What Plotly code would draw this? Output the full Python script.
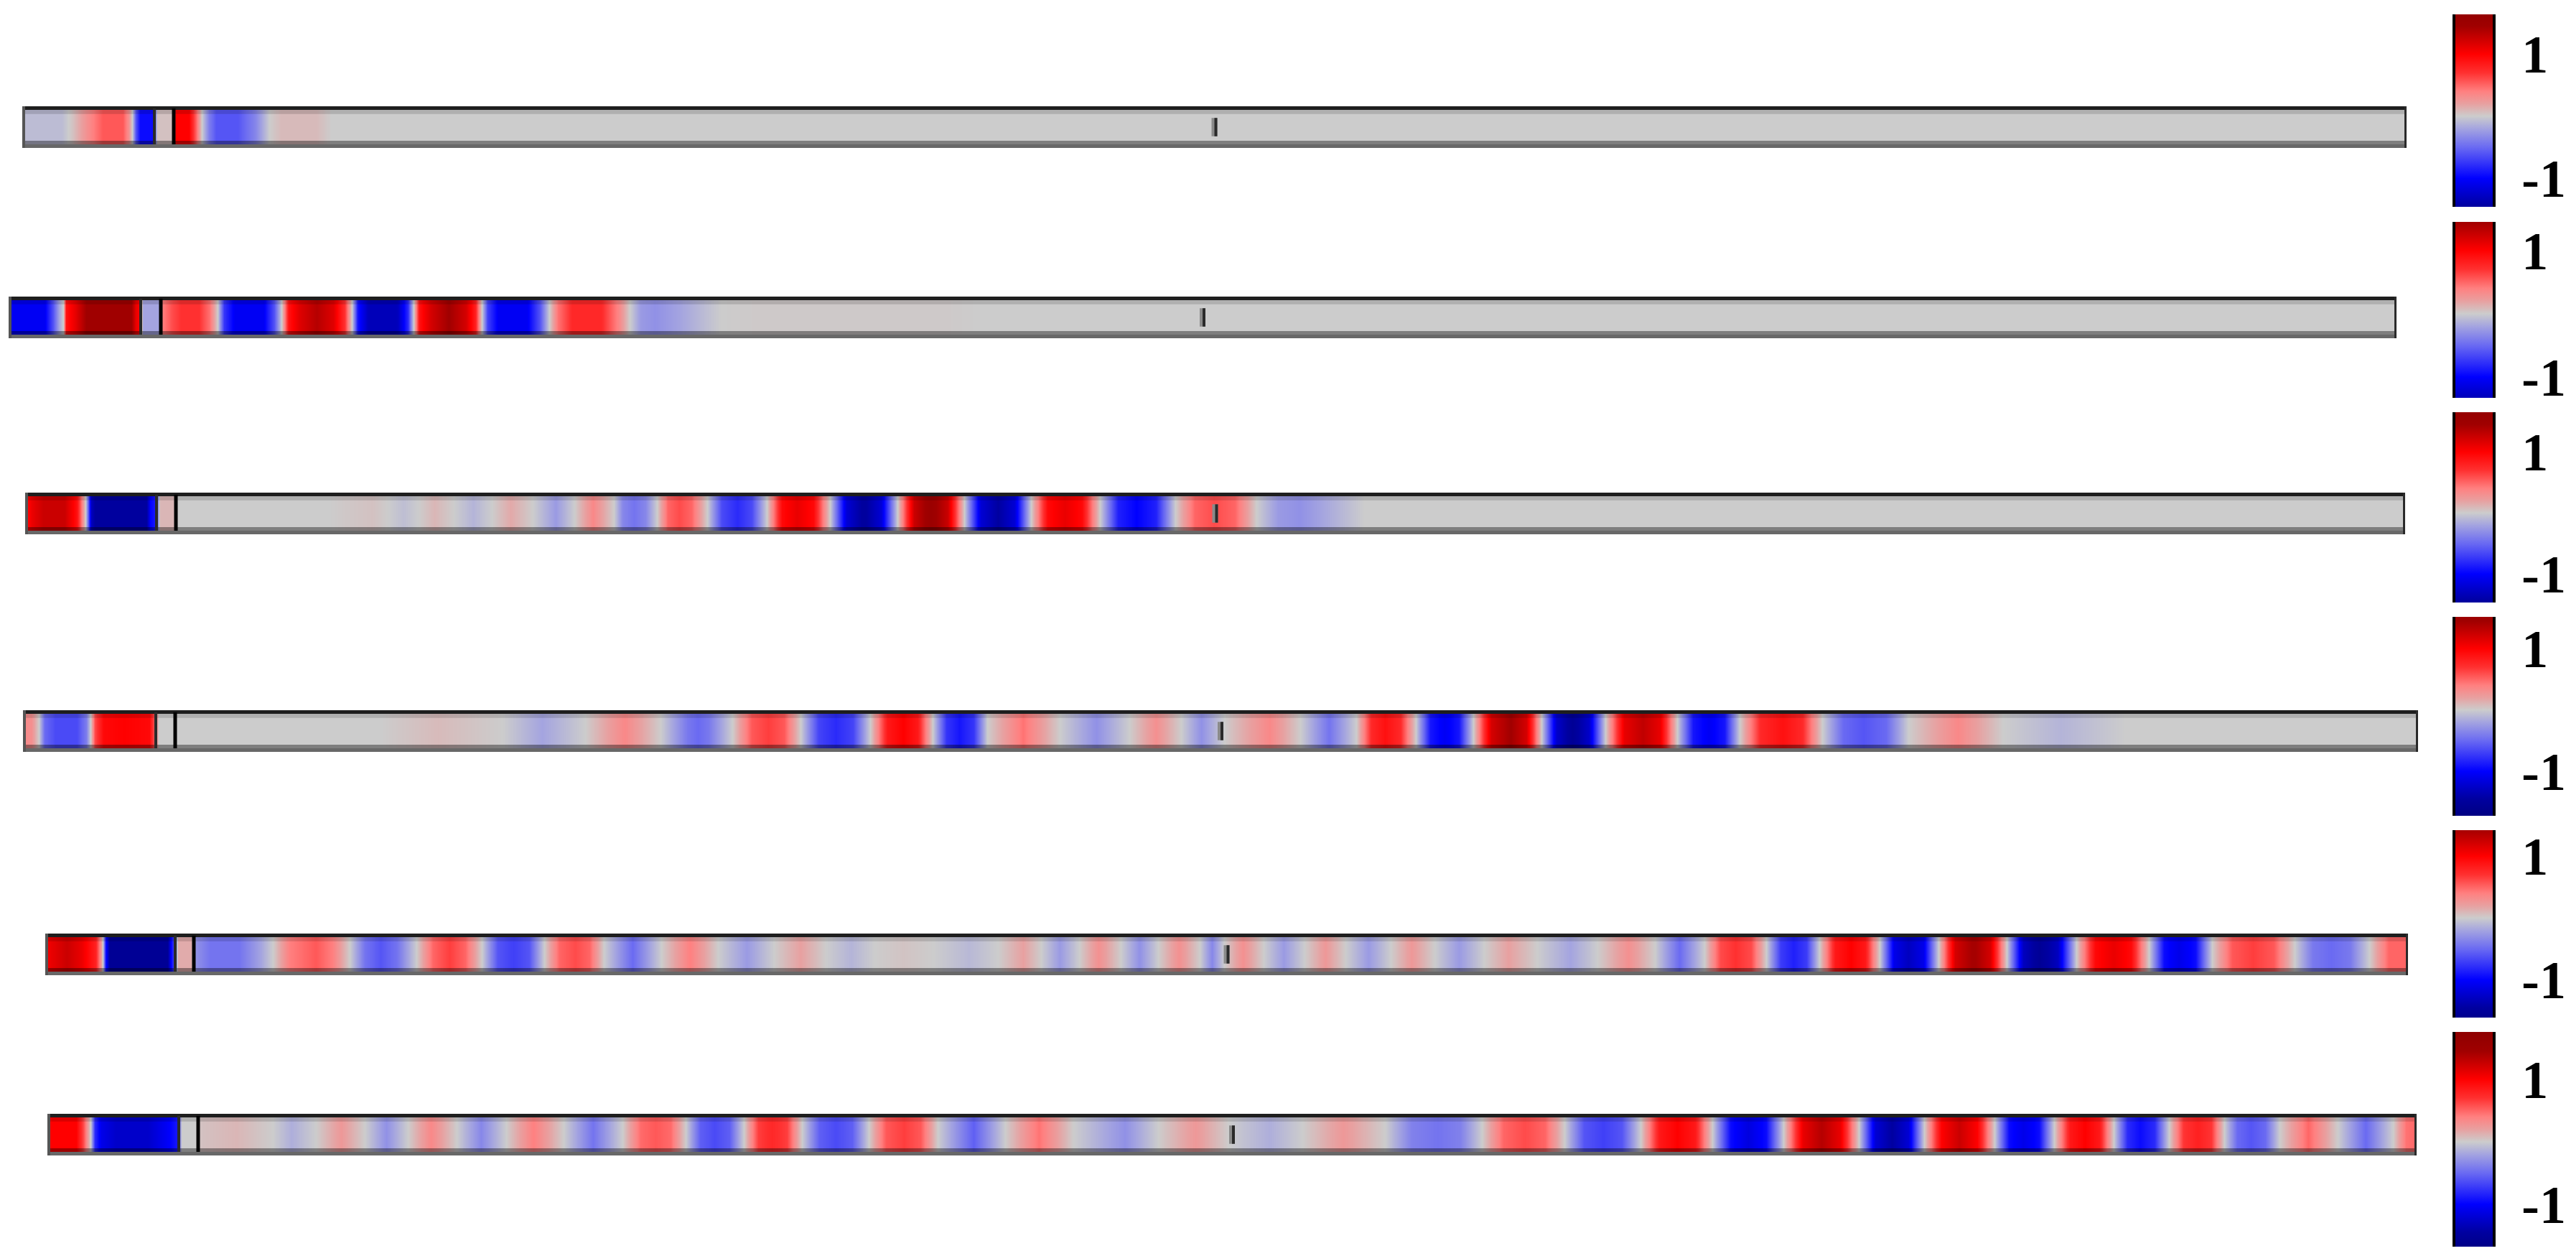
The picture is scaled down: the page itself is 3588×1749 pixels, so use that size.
import plotly.graph_objects as go

PAGE_MARGIN = 8                     # default body margin of the html page
W, H = 3588 - PAGE_MARGIN, 1749 - PAGE_MARGIN

# ---------------- data: normalized field along each waveguide (position, value) ----------------
ROW1 = [(0, -0.08), (55, -0.08), (70, 0.05), (90, 0.3), (112, 0.55), (140, 0.55), (148, 0.3), (153, 0.0),
        (158, -0.6), (164, -0.95), (182, -0.95), (188, 0.05), (208, 0.05), (214, 1.0), (232, 1.0), (242, 0.5),
        (250, 0.0), (260, -0.4), (270, -0.6), (300, -0.6), (325, -0.35), (344, 0.0), (360, 0.08), (410, 0.08),
        (430, 0.0), (3321, 0.0)]

ROW2 = [(0, -1.4), (5, -1.05), (50, -1.05), (62, -0.6), (70, -0.2), (76, 0.0), (80, 0.9), (92, 1.1), (110, 1.5),
        (170, 1.5), (177, 1.1), (182, 1.0), (187, -0.2), (209, -0.2), (214, 0.4), (228, 0.6), (240, 0.7),
        (265, 0.7), (280, 0.45), (291, 0.0), (300, -0.75), (315, -1.05), (355, -1.05), (370, -0.6), (380, 0.0),
        (390, 0.9), (405, 1.15), (429, 1.35), (452, 1.15), (468, 0.7), (478, 0.0), (486, -0.9), (500, -1.3),
        (521, -1.5), (542, -1.3), (556, -0.8), (564, 0.0), (572, 0.9), (588, 1.2), (613, 1.45), (637, 1.2),
        (650, 0.8), (659, 0.0), (667, -0.7), (682, -1.05), (722, -1.05), (740, -0.6), (753, 0.0), (765, 0.45),
        (785, 0.75), (825, 0.75), (850, 0.35), (865, 0.0), (880, -0.25), (900, -0.3), (935, -0.2), (992, 0.0),
        (1050, 0.015), (1300, 0.015), (1350, 0.0), (3326, 0.0)]

ROW3 = [(0, 0.9), (10, 1.1), (25, 1.25), (55, 1.25), (72, 0.9), (80, 0.3), (84, 0.0), (88, -0.6), (92, -1.3),
        (100, -1.55), (168, -1.55), (174, -1.0), (180, -0.9), (188, 0.1), (206, 0.1), (212, 0.0), (423, 0.0),
        (445, 0.02), (484, 0.05), (505, 0.0), (527, -0.07), (548, 0.0), (570, 0.1), (597, 0.0), (624, -0.12),
        (650, 0.0), (676, 0.16), (707, 0.0), (739, -0.25), (765, 0.0), (791, 0.35), (820, 0.0), (832, -0.35),
        (848, -0.45), (864, -0.35), (880, 0.0), (895, 0.5), (911, 0.6), (928, 0.5), (950, 0.0), (970, -0.65),
        (992, -0.8), (1012, -0.65), (1033, 0.0), (1054, 0.95), (1075, 1.1), (1098, 0.95), (1121, 0.0),
        (1144, -1.2), (1168, -1.5), (1192, -1.2), (1215, 0.0), (1238, 1.25), (1261, 1.55), (1285, 1.25),
        (1308, 0.0), (1331, -1.2), (1355, -1.45), (1378, -1.2), (1401, 0.0), (1424, 0.95), (1448, 1.1),
        (1472, 0.95), (1497, 0.0), (1522, -0.85), (1548, -1.0), (1575, -0.85), (1602, 0.0), (1629, 0.5),
        (1656, 0.6), (1685, 0.5), (1715, 0.0), (1745, -0.25), (1775, -0.3), (1820, -0.15), (1865, 0.0),
        (3315, 0.0)]

ROW4 = [(0, 0.35), (12, 0.3), (22, 0.0), (30, -0.5), (45, -0.65), (75, -0.65), (88, -0.4), (94, 0.0), (100, 0.6),
        (112, 0.95), (140, 1.0), (176, 0.95), (182, 0.6), (189, 0.0), (210, 0.0), (214, 0.0), (498, 0.0),
        (578, 0.08), (668, 0.0), (723, -0.2), (783, 0.0), (838, 0.35), (888, 0.0), (925, -0.42), (940, -0.5),
        (955, -0.42), (988, 0.0), (1015, 0.55), (1038, 0.65), (1060, 0.55), (1083, 0.0), (1108, -0.68),
        (1132, -0.8), (1156, -0.68), (1180, 0.0), (1204, 0.85), (1226, 1.0), (1246, 0.85), (1267, 0.0),
        (1286, -0.75), (1304, -0.9), (1324, -0.75), (1343, 0.0), (1393, 0.45), (1444, 0.0), (1495, -0.3),
        (1541, 0.0), (1578, 0.3), (1613, 0.0), (1641, -0.3), (1673, 0.0), (1736, 0.35), (1779, 0.0),
        (1819, -0.45), (1857, 0.0), (1878, 0.75), (1897, 0.9), (1918, 0.75), (1940, 0.0), (1960, -0.9),
        (1980, -1.05), (2000, -0.9), (2020, 0.0), (2045, 1.2), (2072, 1.45), (2094, 1.2), (2115, 0.0),
        (2136, -1.25), (2158, -1.55), (2181, -1.25), (2204, 0.0), (2230, 1.1), (2256, 1.3), (2280, 1.1),
        (2304, 0.0), (2326, -0.9), (2348, -1.05), (2370, -0.9), (2391, 0.0), (2420, 0.75), (2451, 0.9),
        (2478, 0.75), (2506, 0.0), (2535, -0.5), (2563, -0.6), (2595, -0.5), (2626, 0.0), (2695, 0.35),
        (2758, 0.0), (2838, -0.12), (2928, 0.0), (3336, 0.0)]

ROW5 = [(0, 1.0), (8, 1.1), (30, 1.25), (50, 1.1), (70, 0.8), (77, 0.3), (80, 0.0), (84, -0.9), (90, -1.55),
        (170, -1.55), (175, -1.0), (179, -0.7), (185, 0.15), (203, 0.15), (210, -0.3), (230, -0.45),
        (270, -0.45), (300, -0.2), (317, 0.0), (340, 0.4), (377, 0.55), (400, 0.4), (424, 0.0), (445, -0.45),
        (467, -0.6), (490, -0.45), (517, 0.0), (540, 0.5), (563, 0.65), (585, 0.5), (608, 0.0), (630, -0.6),
        (652, -0.7), (674, -0.6), (695, 0.0), (716, 0.5), (738, 0.6), (758, 0.5), (778, 0.0), (818, -0.5),
        (858, 0.0), (898, 0.4), (937, 0.0), (977, -0.25), (1015, 0.0), (1052, 0.2), (1087, 0.0), (1122, -0.12),
        (1155, 0.0), (1195, 0.04), (1237, 0.0), (1287, -0.1), (1327, 0.0), (1362, 0.2), (1387, 0.0),
        (1413, -0.25), (1440, 0.0), (1467, 0.3), (1498, 0.0), (1524, -0.3), (1550, 0.0), (1579, 0.3),
        (1608, 0.0), (1625, -0.35), (1642, 0.0), (1668, 0.3), (1697, 0.0), (1725, -0.25), (1754, 0.0),
        (1783, 0.25), (1811, 0.0), (1843, -0.25), (1874, 0.0), (1903, 0.25), (1935, 0.0), (1969, -0.25),
        (2004, 0.0), (2038, 0.2), (2078, 0.0), (2124, -0.2), (2162, 0.0), (2205, 0.3), (2242, 0.0),
        (2276, -0.5), (2311, 0.0), (2333, 0.6), (2354, 0.7), (2376, 0.6), (2397, 0.0), (2417, -0.72),
        (2435, -0.85), (2453, -0.72), (2471, 0.0), (2493, 0.85), (2515, 1.0), (2535, 0.85), (2555, 0.0),
        (2575, -1.1), (2595, -1.3), (2616, -1.1), (2637, 0.0), (2660, 1.2), (2686, 1.45), (2709, 1.2),
        (2732, 0.0), (2755, -1.3), (2778, -1.55), (2803, -1.3), (2829, 0.0), (2855, 0.95), (2881, 1.1),
        (2905, 0.95), (2930, 0.0), (2951, -0.95), (2972, -1.1), (2995, -0.95), (3018, 0.0), (3046, 0.55),
        (3075, 0.65), (3104, 0.55), (3133, 0.0), (3158, -0.42), (3184, -0.5), (3210, -0.42), (3237, 0.0),
        (3264, 0.5), (3291, 0.5)]

ROW6 = [(0, 0.9), (5, 1.0), (40, 1.0), (50, 0.6), (60, 0.0), (66, -0.8), (75, -1.1), (95, -1.25), (140, -1.25),
        (165, -1.05), (180, -0.9), (187, 0.0), (206, 0.0), (214, 0.05), (263, 0.1), (314, 0.0), (340, -0.15),
        (374, 0.0), (409, 0.25), (442, 0.0), (472, -0.3), (502, 0.0), (534, 0.35), (570, 0.0), (604, -0.35),
        (639, 0.0), (677, 0.4), (719, 0.0), (760, -0.45), (801, 0.0), (826, 0.48), (847, 0.55), (868, 0.48),
        (889, 0.0), (909, -0.55), (929, -0.65), (950, -0.55), (970, 0.0), (990, 0.65), (1009, 0.75),
        (1030, 0.65), (1051, 0.0), (1075, -0.55), (1098, -0.65), (1121, -0.55), (1144, 0.0), (1168, 0.55),
        (1193, 0.65), (1216, 0.55), (1240, 0.0), (1290, -0.55), (1334, 0.0), (1381, 0.45), (1429, 0.0),
        (1501, -0.3), (1547, 0.0), (1599, 0.25), (1645, 0.0), (1702, -0.15), (1748, 0.0), (1805, 0.25),
        (1863, 0.0), (1900, -0.38), (1937, -0.45), (1968, -0.38), (1998, 0.0), (2028, 0.5), (2058, 0.6),
        (2086, 0.5), (2113, 0.0), (2140, -0.6), (2167, -0.7), (2193, -0.6), (2219, 0.0), (2245, 0.85),
        (2270, 1.0), (2295, 0.85), (2319, 0.0), (2344, -0.95), (2369, -1.15), (2394, -0.95), (2418, 0.0),
        (2445, 1.1), (2471, 1.35), (2497, 1.1), (2523, 0.0), (2546, -1.2), (2569, -1.45), (2592, -1.2),
        (2614, 0.0), (2638, 1.0), (2663, 1.25), (2688, 1.0), (2712, 0.0), (2732, -0.95), (2752, -1.1),
        (2774, -0.95), (2795, 0.0), (2817, 0.85), (2838, 1.0), (2858, 0.85), (2878, 0.0), (2897, -0.8),
        (2915, -0.95), (2935, -0.8), (2955, 0.0), (2975, 0.68), (2995, 0.8), (3014, 0.68), (3032, 0.0),
        (3050, -0.5), (3069, -0.6), (3089, -0.5), (3109, 0.0), (3149, 0.5), (3190, 0.0), (3229, -0.5),
        (3267, 0.0), (3285, 0.45), (3300, 0.5)]

ROWS = [ROW1, ROW2, ROW3, ROW4, ROW5, ROW6]
LENGTHS = [3321, 3326, 3315, 3336, 3291, 3300]                      # device length per row
DIVIDERS = [(184, 211), (184, 212), (183, 210), (185, 212), (181, 207), (183, 210)]
CB_RANGES = [(-1.46, 1.64), (-1.33, 1.45), (-1.47, 1.65), (-1.73, 1.52), (-1.61, 1.42), (-1.68, 1.76)]
TICK_VALUES = [1, -1]
TICK_LABELS = ["1", "-1"]

# ---------------- styling / layout (page pixel coordinates) ----------------
STRIP_LEFT = [31, 12, 35, 32, 63, 66]
STRIP_TOP = [148, 413, 686, 989, 1300, 1551]
STRIP_H = 58
CB_SPANS = [(20, 288), (309, 554), (574, 839), (859, 1136), (1156, 1417), (1437, 1736)]
CB_LEFT, CB_WIDTH, CB_BORDER = 3416, 60, 4

SCALE_V = [-1.75, -1.45, -1.0, -0.5, -0.2, 0.0, 0.2, 0.4, 0.7, 1.0, 1.45, 1.8]
SCALE_C = ["#000080", "#0000a0", "#0000ff", "#6a6af2", "#a4a4e0", "#cccccc", "#e8a0a0", "#ff8080",
           "#ff3030", "#ff0000", "#a00000", "#8c0000"]


def _rgb(h):
    return tuple(int(h[i:i + 2], 16) for i in (1, 3, 5))


def color_at(v):
    if v <= SCALE_V[0]:
        return "rgb(%d,%d,%d)" % _rgb(SCALE_C[0])
    if v >= SCALE_V[-1]:
        return "rgb(%d,%d,%d)" % _rgb(SCALE_C[-1])
    for i in range(len(SCALE_V) - 1):
        if SCALE_V[i] <= v <= SCALE_V[i + 1]:
            t = (v - SCALE_V[i]) / (SCALE_V[i + 1] - SCALE_V[i])
            a, b = _rgb(SCALE_C[i]), _rgb(SCALE_C[i + 1])
            return "rgb(%d,%d,%d)" % tuple(round(a[k] + (b[k] - a[k]) * t) for k in range(3))


def scale_for(zmin, zmax):
    stops = [[0.0, color_at(zmin)]]
    for v in SCALE_V:
        if zmin < v < zmax:
            stops.append([(v - zmin) / (zmax - zmin), color_at(v)])
    stops.append([1.0, color_at(zmax)])
    return stops


def px_x(x):   # page px -> paper fraction
    return (x - PAGE_MARGIN) / W


def px_y(y):
    return 1 - (y - PAGE_MARGIN) / H


fig = go.Figure()
layout = dict(width=W, height=H, margin=dict(l=0, r=0, t=0, b=0, pad=0, autoexpand=False),
              paper_bgcolor="white", plot_bgcolor="white", showlegend=False)
shapes = []

for i, row in enumerate(ROWS):
    n = i + 1
    xs = [p for p, _ in row]
    vs = [v for _, v in row]
    L = LENGTHS[i]
    zmin, zmax = CB_RANGES[i]
    xa = "x" if n == 1 else "x%d" % n
    ya = "y" if n == 1 else "y%d" % n
    cb_top, cb_bot = CB_SPANS[i]

    fig.add_trace(go.Heatmap(
        x=xs, y=[0.25, 0.75], z=[vs, vs], zmin=zmin, zmax=zmax, zsmooth="best",
        colorscale=scale_for(zmin, zmax), xaxis=xa, yaxis=ya, hoverinfo="skip",
        colorbar=dict(
            x=px_x(CB_LEFT + CB_BORDER), xanchor="left", y=px_y(cb_bot), yanchor="bottom",
            len=(cb_bot - cb_top) / H, lenmode="fraction",
            thickness=CB_WIDTH - 2 * CB_BORDER, thicknessmode="pixels",
            outlinewidth=0, xpad=0, ypad=0,
            tickvals=TICK_VALUES, ticktext=TICK_LABELS, ticks="outside", ticklen=26,
            tickcolor="rgba(0,0,0,0)",
            tickfont=dict(family="Liberation Serif", size=74, color="black", weight="bold"),
        ),
    ))
    # black side borders of the colour bar
    for bx in (CB_LEFT, CB_LEFT + CB_WIDTH - CB_BORDER):
        shapes.append(dict(type="rect", xref="paper", yref="paper",
                           x0=px_x(bx), x1=px_x(bx + CB_BORDER), y0=px_y(cb_bot), y1=px_y(cb_top),
                           fillcolor="black", line=dict(width=0), layer="above"))

    left = STRIP_LEFT[i]
    top = STRIP_TOP[i]
    layout["xaxis" if n == 1 else "xaxis%d" % n] = dict(
        domain=[px_x(left), px_x(left + L)], range=[0, L], visible=False, anchor=ya, fixedrange=True)
    layout["yaxis" if n == 1 else "yaxis%d" % n] = dict(
        domain=[px_y(top + STRIP_H), px_y(top)], range=[0, 1], visible=False, anchor=xa,
        fixedrange=True)

    def rect(y0, y1, fill):
        shapes.append(dict(type="rect", xref=xa, yref=ya, x0=0, x1=L, y0=y0, y1=y1,
                           fillcolor=fill, line=dict(width=0), layer="above"))

    def vline(x, y0, y1, color, width):
        shapes.append(dict(type="line", xref=xa, yref=ya, x0=x, x1=x, y0=y0, y1=y1,
                           line=dict(color=color, width=width), layer="above"))

    # 3-D slab look of the waveguide
    rect(0.914, 1.0, "#1e1e1e")
    rect(0.816, 0.914, "rgba(0,0,0,0.14)")
    rect(0.086, 0.172, "rgba(0,0,0,0.38)")
    rect(0.0, 0.086, "#686868")
    vline(0, 0.0, 1.0, "#555555", 8)
    vline(L, 0.0, 1.0, "#2a2a2a", 6)
    # section dividers
    d1, d2 = DIVIDERS[i]
    vline(d1, 0.086, 0.95, "#2a2a2a", 4)
    vline(d2, 0.086, 0.95, "#000000", 5)
    # centre marker
    vline(L / 2, 0.28, 0.72, "#8a8a8a", 8)
    vline(L / 2 + 2, 0.28, 0.72, "#2a2a2a", 4)

layout["shapes"] = shapes
fig.update_layout(**layout)
fig.write_html("out.html")
